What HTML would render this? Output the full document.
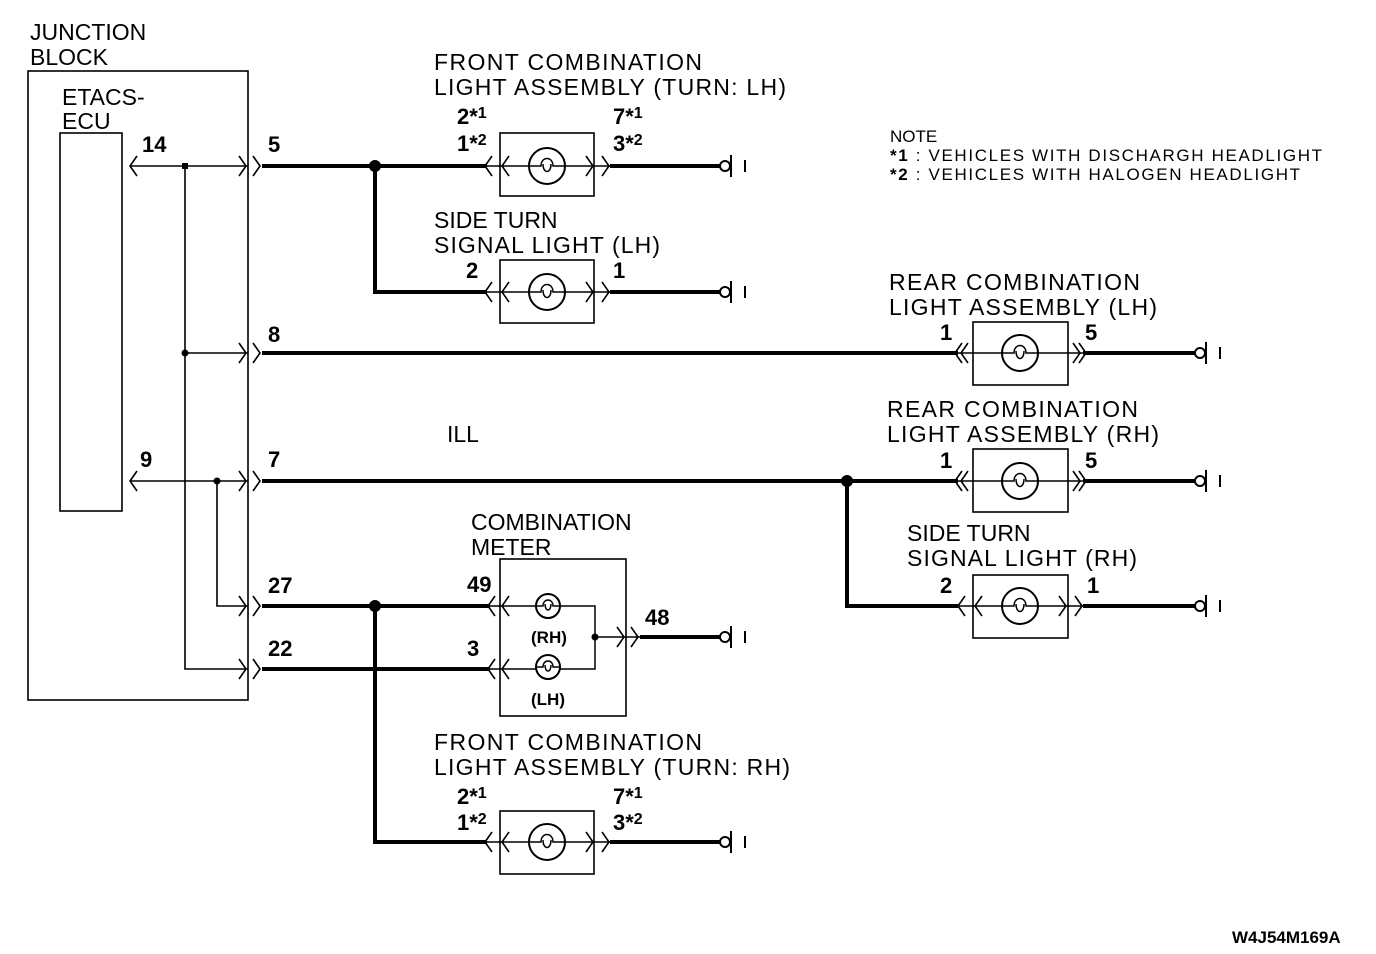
<!DOCTYPE html>
<html><head><meta charset="utf-8"><style>
html,body{margin:0;padding:0;background:#fff;}
svg{display:block;}
text{font-family:"Liberation Sans",sans-serif;fill:#000;}
.l{font-size:23px;}
.n{font-size:22px;font-weight:bold;}
.s{font-size:17px;}
</style></head><body>
<svg width="1376" height="954" viewBox="0 0 1376 954" xmlns="http://www.w3.org/2000/svg">
<defs>
<g id="bulb"><circle cx="0" cy="0" r="18" fill="#fff" stroke="#000" stroke-width="2"/><path d="M-18,0 H-6 C-6,-10 6,-10 6,0 H18 M-4,-2 C-4,8 4,8 4,-2" fill="none" stroke="#000" stroke-width="1.5"/></g>
<g id="sbulb"><circle cx="0" cy="0" r="12" fill="#fff" stroke="#000" stroke-width="2"/><path d="M-12,0 H-5 C-5,-8 5,-8 5,0 H12 M-3,-2 C-3,6 3,6 3,-2" fill="none" stroke="#000" stroke-width="1.5"/></g>
<path id="cl" d="M7,-10 L0,0 L7,10" fill="none" stroke="#000" stroke-width="1.6"/>
<path id="cr" d="M-7,-10 L0,0 L-7,10" fill="none" stroke="#000" stroke-width="1.6"/>
<g id="gnd"><circle cx="-5" cy="0" r="5" fill="#fff" stroke="#000" stroke-width="2"/><path d="M1,-11 V11 M15,-6 V6" stroke="#000" stroke-width="2"/></g>
</defs>
<g fill="none" stroke="#000">
<rect x="28" y="71" width="220" height="629" stroke-width="1.6"/>
<rect x="60" y="133" width="62" height="378" stroke-width="1.6"/>
<path d="M130,166 H248 M185,166 V669 H248 M185,353 H248 M130,481 H248 M217,481 V606 H248" stroke-width="1.6"/>
<path d="M262,166 H487 M375,166 V292 H487 M610,166 H720 M610,292 H720" stroke-width="4"/>
<path d="M262,353 H958 M1083,353 H1195" stroke-width="4"/>
<path d="M262,481 H958 M847,481 V606 H958 M1083,481 H1195 M1083,606 H1195" stroke-width="4"/>
<path d="M262,606 H490 M375,606 V842 H487 M262,669 H490 M640,637 H720 M610,842 H720" stroke-width="4"/>
<rect x="500" y="133" width="94" height="63" stroke-width="1.6"/>
<rect x="500" y="260" width="94" height="63" stroke-width="1.6"/>
<rect x="973" y="322" width="95" height="63" stroke-width="1.6"/>
<rect x="973" y="449" width="95" height="63" stroke-width="1.6"/>
<rect x="973" y="575" width="95" height="63" stroke-width="1.6"/>
<rect x="500" y="559" width="126" height="157" stroke-width="1.6"/>
<rect x="500" y="811" width="94" height="63" stroke-width="1.6"/>
<path d="M487,166 H610 M487,292 H610 M487,842 H610 M958,353 H1083 M958,481 H1083 M958,606 H1083" stroke-width="1.5"/>
<path d="M490,606 H595 V669 H490 M595,637 H640" stroke-width="1.5"/>
</g>
<circle cx="375" cy="166" r="6"/><circle cx="375" cy="606" r="6"/><circle cx="847" cy="481" r="6"/>
<rect x="182" y="163" width="6" height="6"/><circle cx="185" cy="353" r="3.5"/><circle cx="217" cy="481" r="3.5"/><circle cx="595" cy="637" r="3.5"/>
<use href="#cl" x="130" y="166"/><use href="#cl" x="130" y="481"/>
<use href="#cr" x="246" y="166"/><use href="#cr" x="260" y="166"/>
<use href="#cr" x="246" y="353"/><use href="#cr" x="260" y="353"/>
<use href="#cr" x="246" y="481"/><use href="#cr" x="260" y="481"/>
<use href="#cr" x="246" y="606"/><use href="#cr" x="260" y="606"/>
<use href="#cr" x="246" y="669"/><use href="#cr" x="260" y="669"/>
<use href="#cl" x="485" y="166"/><use href="#cl" x="502" y="166"/><use href="#cr" x="593" y="166"/><use href="#cr" x="609" y="166"/>
<use href="#cl" x="485" y="292"/><use href="#cl" x="502" y="292"/><use href="#cr" x="593" y="292"/><use href="#cr" x="609" y="292"/>
<use href="#cl" x="485" y="842"/><use href="#cl" x="502" y="842"/><use href="#cr" x="593" y="842"/><use href="#cr" x="609" y="842"/>
<use href="#cl" x="488" y="606"/><use href="#cl" x="502" y="606"/><use href="#cl" x="488" y="669"/><use href="#cl" x="502" y="669"/>
<use href="#cr" x="624" y="637"/><use href="#cr" x="638" y="637"/>
<use href="#cl" x="955" y="353"/><use href="#cl" x="961" y="353"/><use href="#cr" x="1080" y="353"/><use href="#cr" x="1086" y="353"/>
<use href="#cl" x="955" y="481"/><use href="#cl" x="961" y="481"/><use href="#cr" x="1080" y="481"/><use href="#cr" x="1086" y="481"/>
<use href="#cl" x="958" y="606"/><use href="#cl" x="975" y="606"/><use href="#cr" x="1066" y="606"/><use href="#cr" x="1082" y="606"/>
<use href="#bulb" x="547" y="166"/><use href="#bulb" x="547" y="292"/><use href="#bulb" x="547" y="842"/>
<use href="#bulb" x="1020" y="353"/><use href="#bulb" x="1020" y="481"/><use href="#bulb" x="1020" y="606"/>
<use href="#sbulb" x="548" y="606"/><use href="#sbulb" x="548" y="667"/>
<use href="#gnd" x="730" y="166"/><use href="#gnd" x="730" y="292"/><use href="#gnd" x="730" y="637"/><use href="#gnd" x="730" y="842"/>
<use href="#gnd" x="1205" y="353"/><use href="#gnd" x="1205" y="481"/><use href="#gnd" x="1205" y="606"/>
<text class="l" x="30" y="40">JUNCTION</text><text class="l" x="30" y="65">BLOCK</text>
<text class="l" x="62" y="105">ETACS-</text><text class="l" x="62" y="129">ECU</text>
<text class="n" x="142" y="152">14</text><text class="n" x="268" y="152">5</text>
<text class="n" x="268" y="342">8</text><text class="n" x="140" y="467">9</text><text class="n" x="268" y="467">7</text>
<text class="n" x="268" y="593">27</text><text class="n" x="268" y="656">22</text>
<text class="l" x="434" y="70" textLength="268">FRONT COMBINATION</text>
<text class="l" x="434" y="95" textLength="352">LIGHT ASSEMBLY (TURN: LH)</text>
<text class="n" x="457" y="124">2*<tspan font-size="16" dy="-6">1</tspan></text>
<text class="n" x="457" y="151">1*<tspan font-size="16" dy="-6">2</tspan></text>
<text class="n" x="613" y="124">7*<tspan font-size="16" dy="-6">1</tspan></text>
<text class="n" x="613" y="151">3*<tspan font-size="16" dy="-6">2</tspan></text>
<text class="l" x="434" y="228">SIDE TURN</text>
<text class="l" x="434" y="253" textLength="226">SIGNAL LIGHT (LH)</text>
<text class="n" x="466" y="278">2</text><text class="n" x="613" y="278">1</text>
<text class="s" x="890" y="142">NOTE</text>
<text class="s" x="890" y="161" textLength="432"><tspan font-weight="bold">*1</tspan> : VEHICLES WITH DISCHARGH HEADLIGHT</text>
<text class="s" x="890" y="180" textLength="410"><tspan font-weight="bold">*2</tspan> : VEHICLES WITH HALOGEN HEADLIGHT</text>
<text class="l" x="889" y="290" textLength="251">REAR COMBINATION</text>
<text class="l" x="889" y="315" textLength="268">LIGHT ASSEMBLY (LH)</text>
<text class="n" x="940" y="340">1</text><text class="n" x="1085" y="340">5</text>
<text class="l" x="447" y="442">ILL</text>
<text class="l" x="887" y="417" textLength="251">REAR COMBINATION</text>
<text class="l" x="887" y="442" textLength="272">LIGHT ASSEMBLY (RH)</text>
<text class="n" x="940" y="468">1</text><text class="n" x="1085" y="468">5</text>
<text class="l" x="907" y="541">SIDE TURN</text>
<text class="l" x="907" y="566" textLength="230">SIGNAL LIGHT (RH)</text>
<text class="n" x="940" y="593">2</text><text class="n" x="1087" y="593">1</text>
<text class="l" x="471" y="530">COMBINATION</text><text class="l" x="471" y="555">METER</text>
<text class="n" x="467" y="592">49</text><text class="n" x="467" y="656">3</text><text class="n" x="645" y="625">48</text>
<text class="s" x="531" y="643" font-weight="bold">(RH)</text><text class="s" x="531" y="705" font-weight="bold">(LH)</text>
<text class="l" x="434" y="750" textLength="268">FRONT COMBINATION</text>
<text class="l" x="434" y="775" textLength="356">LIGHT ASSEMBLY (TURN: RH)</text>
<text class="n" x="457" y="804">2*<tspan font-size="16" dy="-6">1</tspan></text>
<text class="n" x="457" y="830">1*<tspan font-size="16" dy="-6">2</tspan></text>
<text class="n" x="613" y="804">7*<tspan font-size="16" dy="-6">1</tspan></text>
<text class="n" x="613" y="830">3*<tspan font-size="16" dy="-6">2</tspan></text>
<text x="1232" y="943" font-size="17" font-weight="bold">W4J54M169A</text>
</svg>
</body></html>
